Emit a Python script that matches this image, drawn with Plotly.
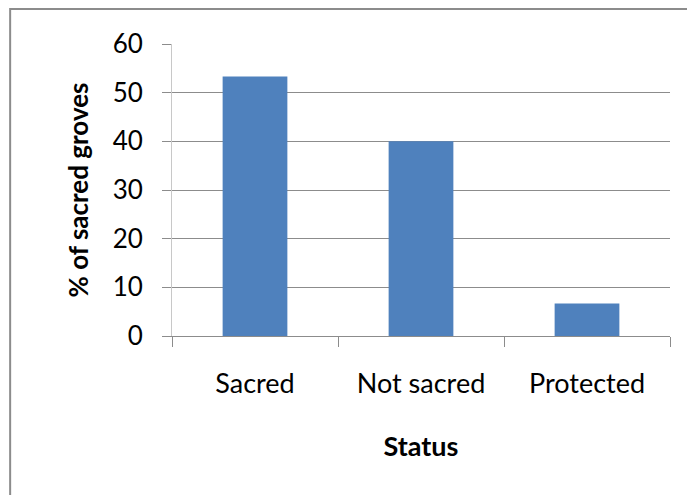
import plotly.graph_objects as go

categories = ["Sacred", "Not sacred", "Protected"]
values = [53.3, 40.0, 6.7]
y_ticks = [0, 10, 20, 30, 40, 50, 60]

FONT = "Lato"
fig = go.Figure(go.Bar(x=categories, y=values, marker=dict(color="#4f81bd", line=dict(width=0)), width=0.39))

fig.update_layout(
    width=695, height=495,
    margin=dict(l=164, r=33, t=36, b=167),
    paper_bgcolor="white", plot_bgcolor="white",
    font=dict(family=FONT, color="black"),
    showlegend=False,
    shapes=[dict(type="rect", xref="paper", yref="paper", x0=-0.325, x1=1.2, y0=-0.7, y1=1.12,
                 line=dict(color="#8c8c8c", width=2), fillcolor="rgba(0,0,0,0)", layer="below")],
)
fig.update_xaxes(
    type="category", tickson="boundaries", ticks="outside", ticklen=10, tickcolor="#8c8c8c",
    showline=True, linecolor="#8c8c8c", linewidth=1, showgrid=False,
    tickfont=dict(size=27, family=FONT), ticklabelstandoff=24,
    title=dict(text="<b>Status</b>", font=dict(size=27, family=FONT), standoff=38),
)
fig.update_yaxes(
    range=[0, 60], tickvals=y_ticks, ticks="outside", ticklen=9, tickcolor="#8c8c8c",
    showgrid=True, gridcolor="#8c8c8c", gridwidth=1, zeroline=False,
    showline=True, linecolor="#c8c8c8", linewidth=1,
    tickfont=dict(size=26, family=FONT), ticklabelstandoff=14,
    title=dict(text="<b>% of sacred groves</b>", font=dict(size=26, family=FONT), standoff=16),
)
fig.write_html("out.html")
